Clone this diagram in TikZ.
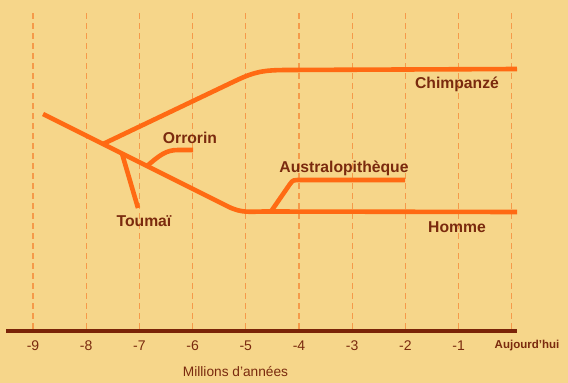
\documentclass[tikz,border=0pt]{standalone}
\usepackage{fontspec}
\setmainfont{Liberation Sans}
\definecolor{bgcol}{HTML}{F6D68A}
\definecolor{lineor}{HTML}{FF6A13}
\definecolor{gridor}{HTML}{F59A4A}
\definecolor{txtbr}{HTML}{7A2A0E}
\definecolor{axisbr}{HTML}{7A2408}
\begin{document}
\begin{tikzpicture}[x=1pt,y=-1pt,
  branch/.style={draw=lineor, line width=4.6pt, line join=round},
  lbl/.style={text=txtbr, font=\bfseries\fontsize{15.7}{18}\selectfont, inner sep=0},
  ticklbl/.style={text=txtbr, font=\fontsize{14}{16}\selectfont, inner sep=0},
  gridline/.style={draw=gridor, line width=1.1pt, dash pattern=on 6pt off 4pt},
  axisline/.style={draw=axisbr, line width=4.8pt}]
\fill[bgcol] (0,0) rectangle (568,383);
\useasboundingbox (0,0) rectangle (568,383);
% grid
\foreach \i in {0,...,9}{
  \draw[gridline] ({33+53.2*\i},13) -- ({33+53.2*\i},330);
}
% axis
\coordinate (axL) at (6,331);
\coordinate (axR) at (517,331);
\draw[axisline] (axL) -- (axR);
\foreach \v [count=\i from 0] in {-9,-8,-7,-6,-5,-4,-3,-2,-1}{
  \node[ticklbl] (t\i) at ({33+53.2*\i},346) {\v};
}
\node[lbl, font=\bfseries\fontsize{11.5}{13}\selectfont] (today) at (527,346) {Aujourd'hui};
\node[ticklbl, font=\fontsize{13.7}{16}\selectfont] (unit) at (235.5,372) {Millions d'années};
% branch points
\coordinate (root) at (43,114);
\coordinate (j1) at (103,144);
\coordinate (jT) at (122,153.5);
\coordinate (jO) at (147,166);
\coordinate (bend) at (228,206.5);
\coordinate (jA) at (271,211.5);
\coordinate (hEnd) at (517,212);
\coordinate (cBend) at (234,81.5);
\coordinate (cEnd) at (517,69);
\coordinate (tEnd) at (138,208);
\coordinate (oEnd) at (193,150);
\coordinate (aEnd) at (405,180);
% branches
\draw[branch] (root) -- (bend) .. controls (242,213.5) and (250,211.5) .. (266,211.5) -- (hEnd);
\draw[branch] (j1) -- (cBend) .. controls (254,72) and (262,70) .. (288,70) -- (cEnd);
\draw[branch] (jT) -- (tEnd);
\draw[branch] (jO) .. controls (160,155) and (166,150) .. (178,150) -- (oEnd);
\draw[branch] (jA) -- (290,184) .. controls (293,180) .. (301,180) -- (aEnd);
% labels
\node[lbl] (chimp) at (457,84) {Chimpanzé};
\node[lbl] (orr) at (190,138) {Orrorin};
\node[lbl] (aus) at (344,168) {Australopithèque};
\node[lbl] (tou) at (144,221) {Toumaï};
\node[lbl] (hom) at (457,227) {Homme};
\end{tikzpicture}
\end{document}
